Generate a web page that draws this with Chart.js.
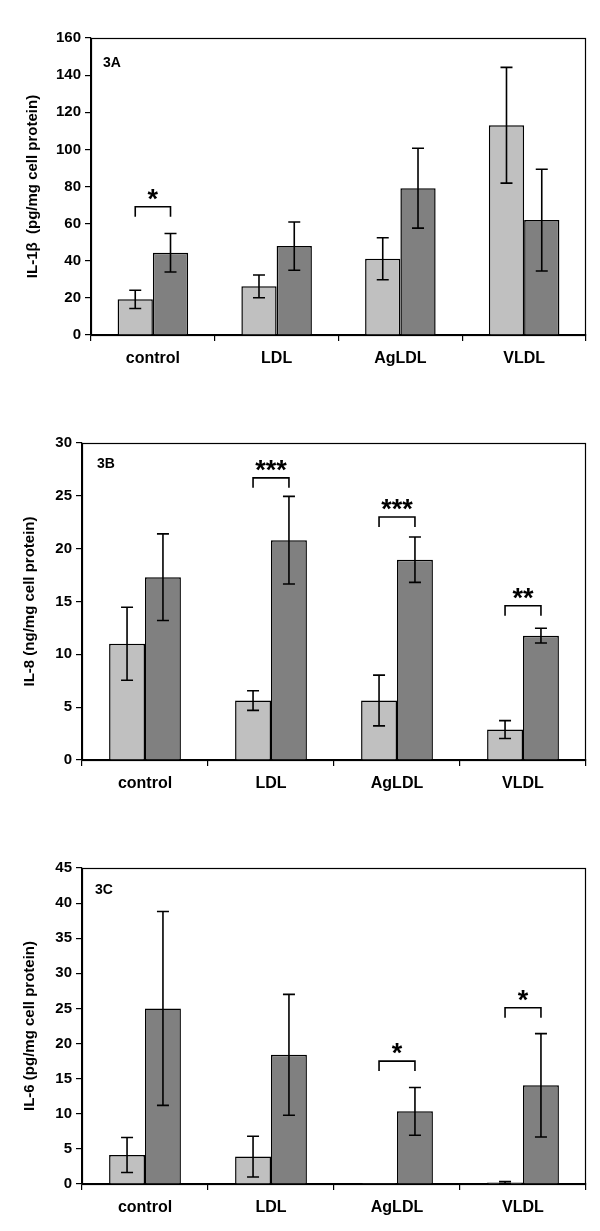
<!DOCTYPE html>
<html lang="en">
  <head>
    <meta charset="UTF-8" />
    <title>IL-1b, IL-8, IL-6</title>
    <script src="https://cdn.jsdelivr.net/npm/chart.js@4.4.1/dist/chart.umd.min.js"></script>
    <style>
      body { margin: 0; background: #fff; }
      canvas { display: block; }
    </style>
  </head>
  <body>
    <canvas id="chartA" width="600" height="410"></canvas>
    <canvas id="chartB" width="600" height="410"></canvas>
    <canvas id="chartC" width="600" height="411"></canvas>
    <script>
      const categories = ['control', 'LDL', 'AgLDL', 'VLDL'];

      // 3A  IL-1b
      const il1bLight = [19.2, 26.2, 41.1, 113.0];
      const il1bLightErr = [4.9, 6.1, 11.3, 31.2];
      const il1bDark = [44.3, 47.9, 79.1, 61.9];
      const il1bDarkErr = [10.4, 13.0, 21.5, 27.4];
      const il1bStars = ['*', '', '', ''];
      const il1bBracket = [69.1, null, null, null];

      // 3B  IL-8
      const il8Light = [11.0, 5.63, 5.63, 2.88];
      const il8LightErr = [3.45, 0.93, 2.4, 0.85];
      const il8Dark = [17.3, 20.8, 18.96, 11.77];
      const il8DarkErr = [4.1, 4.15, 2.15, 0.7];
      const il8Stars = ['', '***', '***', '**'];
      const il8Bracket = [null, 26.7, 23.0, 14.6];

      // 3C  IL-6
      const il6Light = [4.13, 3.9, 0.15, 0.2];
      const il6LightErr = [2.5, 2.9, 0, 0.15];
      const il6Dark = [25.0, 18.4, 10.35, 14.05];
      const il6DarkErr = [13.8, 8.6, 3.4, 7.36];
      const il6Stars = ['', '', '*', '*'];
      const il6Bracket = [null, null, 17.5, 25.1];

      const FONT = '"Liberation Sans", Arial, sans-serif';

      // error bars, brackets, panel label and frame
      const extras = {
        id: 'extras',
        afterDatasetsDraw(chart, args, opts) {
          const { ctx, chartArea: { top, bottom, left, right } } = chart;
          const y = chart.scales.y;
          ctx.save();
          ctx.strokeStyle = '#000';
          ctx.lineWidth = 1.6;
          opts.errors.forEach((errs, di) => {
            const meta = chart.getDatasetMeta(di);
            const vals = chart.data.datasets[di].data;
            meta.data.forEach((bar, i) => {
              if (!errs[i]) return;
              const y1 = y.getPixelForValue(vals[i] + errs[i]);
              const y2 = y.getPixelForValue(vals[i] - errs[i]);
              ctx.beginPath();
              ctx.moveTo(bar.x, y1); ctx.lineTo(bar.x, y2);
              ctx.moveTo(bar.x - 6, y1); ctx.lineTo(bar.x + 6, y1);
              ctx.moveTo(bar.x - 6, y2); ctx.lineTo(bar.x + 6, y2);
              ctx.stroke();
            });
          });

          // significance brackets
          const m0 = chart.getDatasetMeta(0), m1 = chart.getDatasetMeta(1);
          ctx.fillStyle = '#000';
          ctx.textAlign = 'center';
          ctx.textBaseline = 'alphabetic';
          ctx.font = 'bold 27px ' + FONT;
          opts.brackets.forEach((lvl, i) => {
            if (lvl == null) return;
            const x1 = m0.data[i].x, x2 = m1.data[i].x;
            const by = y.getPixelForValue(lvl);
            ctx.beginPath();
            ctx.moveTo(x1, by + 10); ctx.lineTo(x1, by);
            ctx.lineTo(x2, by); ctx.lineTo(x2, by + 10);
            ctx.stroke();
            ctx.fillText(opts.stars[i], (x1 + x2) / 2, by + 1);
          });

          // panel label
          ctx.textAlign = 'left';
          ctx.textBaseline = 'middle';
          ctx.font = 'bold 14px ' + FONT;
          ctx.fillText(opts.label, left + opts.labelDx, top + opts.labelDy);

          // frame
          ctx.lineWidth = 1.2;
          ctx.strokeRect(left + 0.5, top + 0.5, right - left - 1, bottom - top);
          ctx.restore();
        }
      };

      function makeChart(id, p) {
        return new Chart(document.getElementById(id), {
          type: 'bar',
          data: {
            labels: categories,
            datasets: [
              { data: p.light, backgroundColor: '#c0c0c0', borderColor: '#000', borderWidth: 1.5 },
              { data: p.dark, backgroundColor: '#808080', borderColor: '#000', borderWidth: 1.5 }
            ]
          },
          options: {
            responsive: false,
            animation: false,
            events: [],
            categoryPercentage: 0.57,
            barPercentage: 1.0,
            layout: { padding: p.padding },
            plugins: {
              legend: { display: false },
              tooltip: { enabled: false },
              extras: {
                errors: [p.lightErr, p.darkErr],
                brackets: p.bracket,
                stars: p.stars,
                label: p.label,
                labelDx: p.labelDx,
                labelDy: p.labelDy
              }
            },
            scales: {
              x: {
                afterFit: (s) => { s.height = p.xHeight; },
                grid: { offset: true, drawOnChartArea: false, color: '#000', tickLength: 6, lineWidth: 1.2 },
                border: { display: true, color: '#000', width: 1.2 },
                ticks: { color: '#000', padding: 8, font: { family: FONT, size: 16, weight: 'bold' } }
              },
              y: {
                min: 0,
                max: p.max,
                afterFit: (s) => { s.width = p.yWidth; },
                ticks: { stepSize: p.step, color: '#000', padding: 4, font: { family: FONT, size: 15, weight: 'bold' } },
                grid: { drawOnChartArea: false, color: '#000', tickLength: 6, lineWidth: 1.2 },
                border: { display: true, color: '#000', width: 1.2 },
                title: {
                  display: true,
                  text: p.title,
                  color: '#000',
                  font: { family: FONT, size: 15, weight: 'bold' },
                  padding: { top: 4, bottom: 4 }
                }
              }
            }
          },
          plugins: [extras]
        });
      }

      makeChart('chartA', {
        light: il1bLight, lightErr: il1bLightErr, dark: il1bDark, darkErr: il1bDarkErr,
        stars: il1bStars, bracket: il1bBracket,
        max: 160, step: 20, title: 'IL-1\u03b2  (pg/mg cell protein)', label: '3A',
        labelDx: 12, labelDy: 25,
        padding: { top: 38, right: 14, bottom: 25, left: 20 }, yWidth: 71, xHeight: 50
      });

      makeChart('chartB', {
        light: il8Light, lightErr: il8LightErr, dark: il8Dark, darkErr: il8DarkErr,
        stars: il8Stars, bracket: il8Bracket,
        max: 30, step: 5, title: 'IL-8 (ng/mg cell protein)', label: '3B',
        labelDx: 15, labelDy: 21,
        padding: { top: 33, right: 14, bottom: 10, left: 17 }, yWidth: 65, xHeight: 50
      });

      makeChart('chartC', {
        light: il6Light, lightErr: il6LightErr, dark: il6Dark, darkErr: il6DarkErr,
        stars: il6Stars, bracket: il6Bracket,
        max: 45, step: 5, title: 'IL-6 (pg/mg cell protein)', label: '3C',
        labelDx: 13, labelDy: 22,
        padding: { top: 48, right: 14, bottom: 2, left: 17 }, yWidth: 65, xHeight: 45
      });
    </script>
  </body>
</html>
